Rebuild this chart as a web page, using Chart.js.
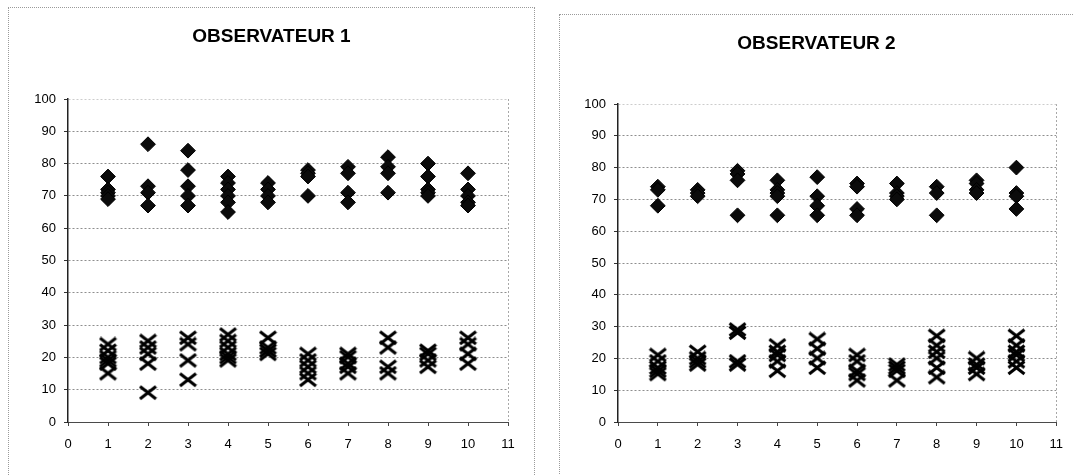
<!DOCTYPE html>
<html>
<head>
<meta charset="utf-8">
<script src="https://cdn.jsdelivr.net/npm/chart.js@4/dist/chart.umd.min.js"></script>
<style>
  html, body { margin: 0; padding: 0; background: #fff; width: 1074px; height: 475px; overflow: hidden; position: relative; }
  .frame { position: absolute; border: 1px dotted #9a9a9a; box-sizing: border-box; }
  canvas { position: absolute; }
</style>
</head>
<body>
<div class="frame" style="left:8px; top:7px; width:527px; height:480px;"></div>
<div class="frame" style="left:559px; top:14px; width:520px; height:480px;"></div>
<canvas id="c1" width="527" height="473" style="left:8px; top:7px;"></canvas>
<canvas id="c2" width="515" height="466" style="left:559px; top:14px;"></canvas>
<script>
// Subjects 1..10 along the x axis; each entry lists the readings taken for that subject.
const subjects = [1, 2, 3, 4, 5, 6, 7, 8, 9, 10];
const yTicks = [0, 10, 20, 30, 40, 50, 60, 70, 80, 90, 100];
const xTicks = [0, 1, 2, 3, 4, 5, 6, 7, 8, 9, 10, 11];

// Observer 1: high group (diamonds) and low group (crosses)
const obs1High = [
  [76, 72, 71, 70, 69],
  [86, 73, 71, 67],
  [84, 78, 73, 70, 67],
  [76, 74, 72, 70, 68, 65],
  [74, 72, 70, 68],
  [78, 77, 76, 70],
  [79, 77, 71, 68],
  [82, 79, 77, 71],
  [80, 76, 72, 71, 70],
  [77, 72, 70, 68, 67]
];
const obs1Low = [
  [24, 22, 20, 19, 18, 15],
  [25, 23, 21, 18, 9],
  [26, 24, 19, 13],
  [27, 25, 23, 21, 20, 19],
  [26, 23, 22, 21],
  [21, 19, 17, 15, 13],
  [21, 20, 18, 17, 15],
  [26, 23, 17, 15],
  [22, 21, 19, 17],
  [26, 24, 21, 18]
];

// Observer 2
const obs2High = [
  [74, 73, 68],
  [73, 72, 71],
  [79, 78, 76, 65],
  [76, 73, 72, 71, 65],
  [77, 71, 68, 65],
  [75, 74, 67, 65],
  [75, 72, 71, 70],
  [74, 72, 65],
  [76, 75, 73, 72],
  [80, 72, 71, 67]
];
const obs2Low = [
  [21, 19, 17, 16, 15],
  [22, 20, 19, 18],
  [29, 28, 19, 18],
  [24, 22, 21, 19, 16],
  [26, 23, 20, 17],
  [21, 19, 16, 15, 13],
  [18, 17, 16, 13],
  [27, 24, 22, 20, 17, 14],
  [20, 18, 17, 15],
  [27, 24, 22, 21, 19, 17]
];

const titles = ['OBSERVATEUR 1', 'OBSERVATEUR 2'];

// Wide "X" marker, slightly wider than tall
function makeCross(w, h, lw) {
  const c = document.createElement('canvas');
  c.width = Math.ceil(w + lw);
  c.height = Math.ceil(h + lw);
  const g = c.getContext('2d');
  g.strokeStyle = '#000';
  g.lineWidth = lw;
  g.beginPath();
  g.moveTo(lw / 2, lw / 2);
  g.lineTo(w + lw / 2, h + lw / 2);
  g.moveTo(w + lw / 2, lw / 2);
  g.lineTo(lw / 2, h + lw / 2);
  g.stroke();
  return c;
}
const crossMark = makeCross(16, 12.5, 3);

function toPoints(groups) {
  const pts = [];
  groups.forEach((vals, i) => vals.forEach(v => pts.push({ x: subjects[i], y: v })));
  return pts;
}

const FONT = "'Liberation Sans', Arial, sans-serif";

function buildChart(id, title, high, low, geo) {
  return new Chart(document.getElementById(id), {
    type: 'scatter',
    data: {
      datasets: [
        {
          data: toPoints(high),
          pointStyle: 'rectRot',
          pointRadius: 7.4,
          backgroundColor: '#0b0b0b',
          borderColor: '#000',
          borderWidth: 1
        },
        {
          data: toPoints(low),
          pointStyle: crossMark,
          pointRadius: 9,
          backgroundColor: '#000',
          borderColor: '#000'
        }
      ]
    },
    options: {
      responsive: false,
      animation: false,
      events: [],
      layout: { padding: 0 },
      plugins: {
        legend: { display: false },
        tooltip: { enabled: false },
        title: {
          display: true,
          text: title,
          color: '#000',
          font: { family: FONT, size: 19, weight: 'bold' },
          padding: { top: geo.titleTop, bottom: geo.titleBottom }
        }
      },
      scales: {
        x: {
          type: 'linear',
          min: 0,
          max: 11,
          afterBuildTicks: s => { s.ticks = xTicks.map(v => ({ value: v })); },
          afterFit: s => { s.height = geo.xHeight; },
          ticks: {
            autoSkip: false,
            maxRotation: 0,
            color: '#000',
            padding: 11,
            font: { family: FONT, size: 13 }
          },
          grid: {
            color: c => (c.tick && c.tick.value === 11) ? '#a8a8a8' : 'rgba(0,0,0,0)',
            tickColor: '#444',
            tickLength: 4,
            tickBorderDash: [],
            lineWidth: 1
          },
          border: { display: true, color: '#4a4a4a', width: 1, dash: [2, 2] }
        },
        y: {
          type: 'linear',
          min: 0,
          max: 100,
          afterBuildTicks: s => { s.ticks = yTicks.map(v => ({ value: v })); },
          afterFit: s => { s.width = geo.yWidth; },
          ticks: {
            color: '#000',
            padding: 8,
            font: { family: FONT, size: 13 }
          },
          grid: {
            color: c => {
              const v = c.tick ? c.tick.value : null;
              if (v === 0) return 'rgba(0,0,0,0)';
              if (v === 100) return '#cccccc';
              return '#8e8e8e';
            },
            tickColor: '#333',
            tickLength: 4,
            tickBorderDash: [],
            lineWidth: 1
          },
          border: { display: true, color: '#222', width: 1.5, dash: [2, 2] }
        },
        pad: {
          type: 'linear',
          position: 'right',
          display: true,
          ticks: { display: false },
          grid: { display: false },
          border: { display: false },
          afterFit: s => { s.width = geo.rightPad; }
        }
      }
    }
  });
}

buildChart('c1', titles[0], obs1High, obs1Low,
  { titleTop: 18.6, titleBottom: 50.6, xHeight: 58, yWidth: 60, rightPad: 27 });
buildChart('c2', titles[1], obs2High, obs2Low,
  { titleTop: 18.6, titleBottom: 48.6, xHeight: 58, yWidth: 59, rightPad: 16 });
</script>
</body>
</html>
